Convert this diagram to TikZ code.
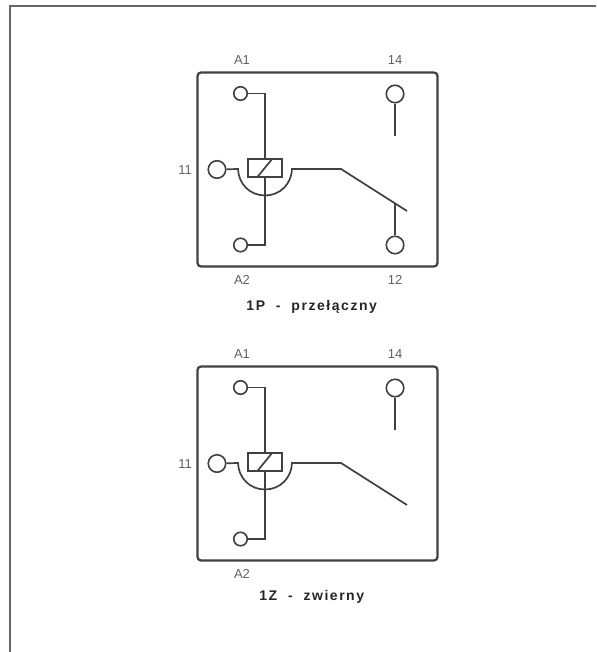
\documentclass[tikz,border=0pt]{standalone}
\usepackage{fontspec}
\setmainfont{Liberation Sans}
\newfontfamily\capfont[LetterSpace=11,BoldFont={Liberation Sans Bold}]{Liberation Sans}
\usetikzlibrary{calc}
\definecolor{lbl}{gray}{0.38}
\definecolor{ln}{gray}{0.25}
\tikzset{x=1pt,y=-1pt,
 frame/.style={draw=ln,line width=2.2pt,rounded corners=3.5pt},
 wire/.style={draw=ln,line width=1.7pt},
 pinsmall/.style={circle,draw=ln,fill=white,line width=1.6pt,minimum size=13.5pt,inner sep=0pt},
 pinbig/.style={circle,draw=ln,fill=white,line width=1.6pt,minimum size=17.5pt,inner sep=0pt},
 coil/.style={rectangle,draw=ln,fill=white,line width=1.6pt,minimum width=33.5pt,minimum height=17.5pt,inner sep=0pt},
 lab/.style={text=lbl,font=\fontsize{13}{14}\selectfont,inner sep=0pt},
 captxt/.style={text=black!85,font=\capfont\bfseries\fontsize{14}{16}\selectfont,inner sep=0pt},
 outer/.style={draw=black!60,line width=2pt}}
\newcommand{\relay}[2]{%
\begin{scope}[yshift=#1]
 \node[lab] (lA1#2) at (242,60) {A1};
 \node[lab] (l14#2) at (395,60) {14};
 \node[lab] (l11#2) at (185,170) {11};
 \node[lab] (lA2#2) at (242,280) {A2};
 \draw[frame] (197.5,72.5) rectangle (437.5,266.5);
 \coordinate (top#2) at (265.05,93.5);
 \coordinate (bot#2) at (265.05,245);
 \coordinate (jl#2) at (238,169);
 \coordinate (jr#2) at (292,169);
 \coordinate (knee#2) at (341,169);
 \coordinate (tip#2) at (407,211);
 \coordinate (cend#2) at (395.05,136);
 \node[pinsmall] (a1#2) at (240.5,93.5) {};
 \node[pinsmall] (a2#2) at (240.5,245) {};
 \node[pinbig] (p11#2) at (217,169.5) {};
 \node[pinbig] (p14#2) at (395.05,94) {};
 \draw[wire] (a1#2) -- (top#2) -- (bot#2) -- (a2#2);
 \draw[wire] (p11#2) -- (jl#2) .. controls (238.5,184) and (250,195.5) .. (265,195.5) .. controls (280,195.5) and (291.5,184) .. (jr#2) -- (knee#2) -- (tip#2);
 \draw[wire] (p14#2) -- (cend#2);
 \node[coil] (c#2) at (265,168) {};
 \draw[wire] ($(c#2.south west)+(9.5,0)$) -- ($(c#2.north east)+(-10,0)$);
\end{scope}}
\begin{document}
\begin{tikzpicture}
\useasboundingbox (0,0) rectangle (596,652);
\draw[outer] (9.5,652) -- (9.5,6.5) -- (596,6.5);
\relay{0pt}{a}
\node[pinbig] (p12) at (395.05,245) {};
\coordinate (c12) at (395.05,203.5);
\draw[wire] (p12) -- (c12);
\node[lab] (l12) at (395,280) {12};
\node[captxt] (t1) at (311.7,306.5) {1P\ \ -\ \ przełączny};
\relay{-294pt}{b}
\node[captxt] (t2) at (311.7,597) {1Z\ \ -\ \ zwierny};
\end{tikzpicture}
\end{document}
